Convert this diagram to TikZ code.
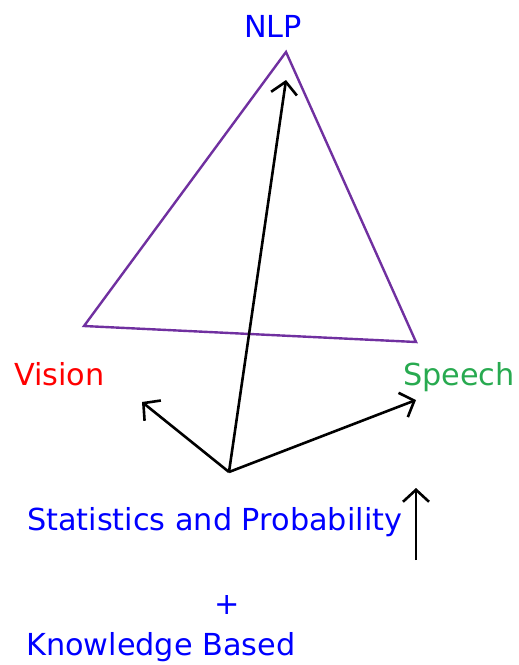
\documentclass[tikz,border=0pt]{standalone}
\usepackage{fontspec}
\setmainfont{DejaVu Sans}
\usetikzlibrary{arrows.meta}
\definecolor{tblue}{RGB}{0,0,255}
\definecolor{tred}{RGB}{255,0,0}
\definecolor{tgreen}{RGB}{40,170,80}
\definecolor{tpurple}{RGB}{112,48,160}
\tikzset{
  lbl/.style={inner sep=0pt, anchor=base west, font=\fontsize{30.3}{34}\selectfont},
  tri/.style={draw=tpurple, line width=2.4pt, line join=miter},
  arr/.style={draw=black, line width=2.6pt, -{Straight Barb[length=12pt,width=26pt,line width=2.6pt]}}
}
\begin{document}
\begin{tikzpicture}[x=1pt,y=-1pt]
\useasboundingbox (0,0) rectangle (519,665);
% labels
\node[lbl, text=tblue] (nlp) at (244,37) {NLP};
\node[lbl, text=tred] (vision) at (14,385) {Vision};
\node[lbl, text=tgreen] (speech) at (403,385) {Speech};
\node[lbl, text=tblue] (stat) at (27,530) {Statistics and Probability};
\node[inner sep=0pt, text=tblue, font=\fontsize{30.3}{34}\selectfont] (plus) at (227,605) {+};
\node[lbl, text=tblue] (know) at (26,655) {Knowledge Based};
% triangle
\coordinate (a) at (286,52);
\coordinate (l) at (84,326);
\coordinate (r) at (416,342);
\draw[tri] (a) -- (r) -- (l) -- cycle;
% arrows
\coordinate (o) at (229,472);
\coordinate (tn) at (286,80);
\coordinate (tv) at (142,402);
\coordinate (ts) at (416,400);
\draw[arr] (o) -- (tn);
\draw[arr] (o) -- (tv);
\draw[arr] (o) -- (ts);
\coordinate (vb) at (416,560);
\coordinate (vt) at (416,488);
\draw[arr] (vb) -- (vt);
\end{tikzpicture}
\end{document}
